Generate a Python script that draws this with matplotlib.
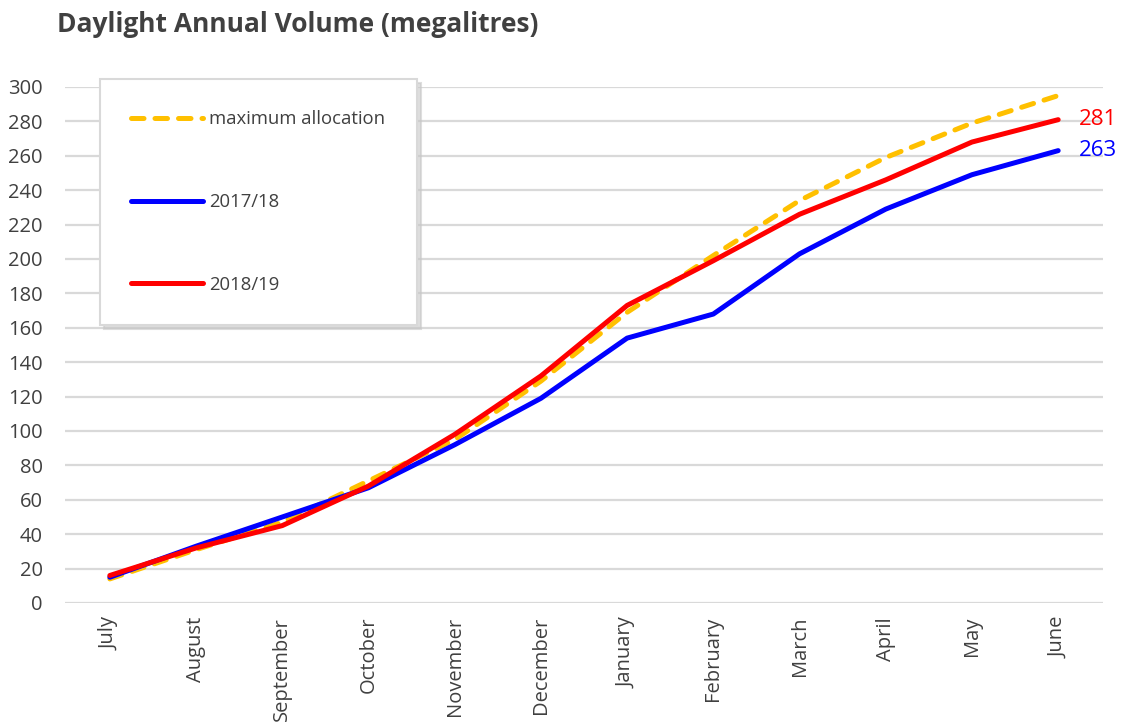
import numpy as np
import matplotlib
matplotlib.use('Agg')
import matplotlib.pyplot as plt

plt.rcParams['font.family'] = ['Open Sans', 'DejaVu Sans']

months = ['July', 'August', 'September', 'October', 'November', 'December',
          'January', 'February', 'March', 'April', 'May', 'June']
max_alloc = [14, 31, 47, 71, 95, 129, 169, 202, 234, 259, 279, 295]
y2017 = [15, 33, 50, 67, 92, 119, 154, 168, 203, 229, 249, 263]
y2018 = [16, 32, 45, 68, 98, 132, 173, 199, 226, 246, 268, 281]
yticks = list(range(0, 301, 20))

txt = '#404040'
grid = '#d9d9d9'

fig = plt.figure(figsize=(11.26, 7.24), dpi=100)
ax = fig.add_axes([65/1126, 1-603/724, (1103-65)/1126, (603-87)/724])

x = np.arange(len(months))

ax.plot(x, max_alloc, color='#FFC000', lw=3.6, dashes=(2.5, 2.2),
        dash_capstyle='round', solid_capstyle='round', label='maximum allocation', zorder=3)
ax.plot(x, y2017, color='#0000FF', lw=3.6, solid_capstyle='round', label='2017/18', zorder=4)
ax.plot(x, y2018, color='#FF0000', lw=3.6, solid_capstyle='round', label='2018/19', zorder=5)

# end-of-line value labels
ax.annotate(str(y2018[-1]), xy=(x[-1], y2018[-1]), xytext=(15, 0), textcoords='offset points',
            color='#FF0000', fontsize=16, va='center', ha='left', annotation_clip=False)
ax.annotate(str(y2017[-1]), xy=(x[-1], y2017[-1]), xytext=(15, 0), textcoords='offset points',
            color='#0000FF', fontsize=16, va='center', ha='left', annotation_clip=False)

ax.set_xlim(-0.52, 11.52)
ax.set_ylim(0, 300)
ax.set_yticks(yticks)
ax.set_xticks(x)
ax.set_xticklabels(months, rotation=90, va='top', ha='center')
ax.tick_params(axis='both', length=0, labelsize=14.5, colors=txt)
ax.tick_params(axis='y', pad=16)
ax.tick_params(axis='x', pad=10)
ax.grid(axis='y', color=grid, lw=1.6)
ax.set_axisbelow(True)
for s in ax.spines.values():
    s.set_visible(False)

leg = ax.legend(loc='upper left', bbox_to_anchor=(100/1126, 1-79/724), bbox_transform=fig.transFigure,
                borderaxespad=0, fontsize=13.3, labelspacing=3.5, borderpad=1.7, handlelength=3.9,
                handletextpad=0.3, fancybox=False, framealpha=1, edgecolor=grid,
                shadow={'ox': 3, 'oy': -3, 'color': '#c8c8c8', 'alpha': 0.6})
for t in leg.get_texts():
    t.set_color(txt)
leg.get_frame().set_linewidth(1.5)

fig.text(57/1126, 1-24/724, 'Daylight Annual Volume (megalitres)', fontsize=19, fontweight='bold',
         color=txt, va='center', ha='left')

fig.savefig('out.png', dpi=100)
